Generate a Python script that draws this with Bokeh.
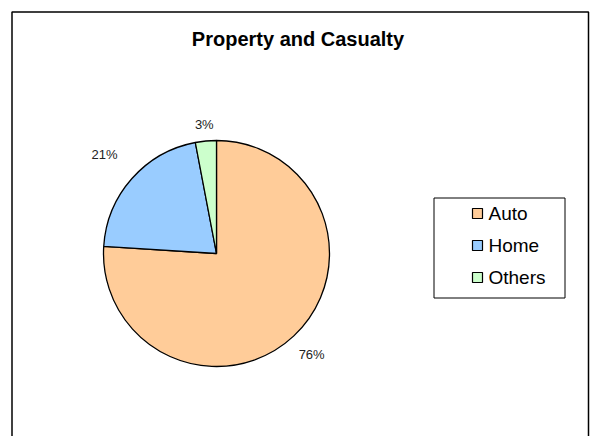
import numpy as np
from bokeh.plotting import figure
from bokeh.models import Range1d, ColumnDataSource
from bokeh.core.properties import value
from bokeh.embed import file_html
from bokeh.resources import INLINE

# ---- data ----
categories = ["Auto", "Home", "Others"]
shares = [76, 21, 3]
colors = ["#FFCC99", "#99CCFF", "#CCFFCC"]
title_text = "Property and Casualty"

# ---- layout (screen pixels, y measured from top) ----
W, H = 596, 436
def Y(py):
    return H - py

cx, cy, R = 216, Y(253), 113
label_r = [1.23, 1.32, 1.15]   # label distance factors (layout)
FONT = value("Liberation Sans")

p = figure(width=W, height=H, output_backend="svg", toolbar_location=None,
           x_range=Range1d(0, W), y_range=Range1d(0, H), min_border=0)
p.axis.visible = False
p.grid.visible = False
p.outline_line_color = None
p.background_fill_color = "white"
p.border_fill_color = "white"

# outer chart border
p.quad(left=[11.5], right=[588], top=[Y(11.5)], bottom=[-10],
       fill_color=None, line_color="#000000", line_width=1.5)

# title
p.text(x=[297.5], y=[Y(38)], text=[title_text], text_font=FONT,
       text_font_size="20px", text_font_style="bold", text_align="center",
       text_baseline="middle", text_color="black")

# pie
vals = np.array(shares, dtype=float)
frac = vals / vals.sum()
cum = np.concatenate([[0], np.cumsum(frac)])
start = np.pi / 2 - 2 * np.pi * cum[:-1]
end = np.pi / 2 - 2 * np.pi * cum[1:]
src = ColumnDataSource(dict(x=[cx] * len(vals), y=[cy] * len(vals), start=start, end=end,
                            color=colors, cat=categories))
p.wedge(x="x", y="y", radius=R, radius_units="screen", start_angle="start", end_angle="end",
        direction="clock", fill_color="color", line_color="black", line_width=1.3, source=src)

# percentage labels
mid = np.pi / 2 - 2 * np.pi * (cum[:-1] + cum[1:]) / 2
lx = cx + np.array(label_r) * R * np.cos(mid)
ly = cy + np.array(label_r) * R * np.sin(mid)
p.text(x=lx, y=ly, text=[f"{int(round(f * 100))}%" for f in frac],
       text_font=FONT, text_font_size="13px", text_align="center",
       text_baseline="middle", text_color="#222222")

# legend (manual)
lg_left, lg_right, lg_top, lg_bottom = 433.5, 564.5, 197.5, 297.5
p.quad(left=[lg_left], right=[lg_right], top=[Y(lg_top)], bottom=[Y(lg_bottom)],
       fill_color="white", line_color="black", line_width=1)
row0, row_step = 213, 32
rows = [Y(row0 + i * row_step) for i in range(len(categories))]
p.scatter(x=[477] * len(categories), y=rows, marker="square", size=10,
          fill_color=colors, line_color="black", line_width=1.2)
p.text(x=[488] * len(categories), y=rows, text=categories, text_font=FONT,
       text_font_size="19px", text_align="left", text_baseline="middle", text_color="black")

open("out.html", "w").write(file_html(p, INLINE))
